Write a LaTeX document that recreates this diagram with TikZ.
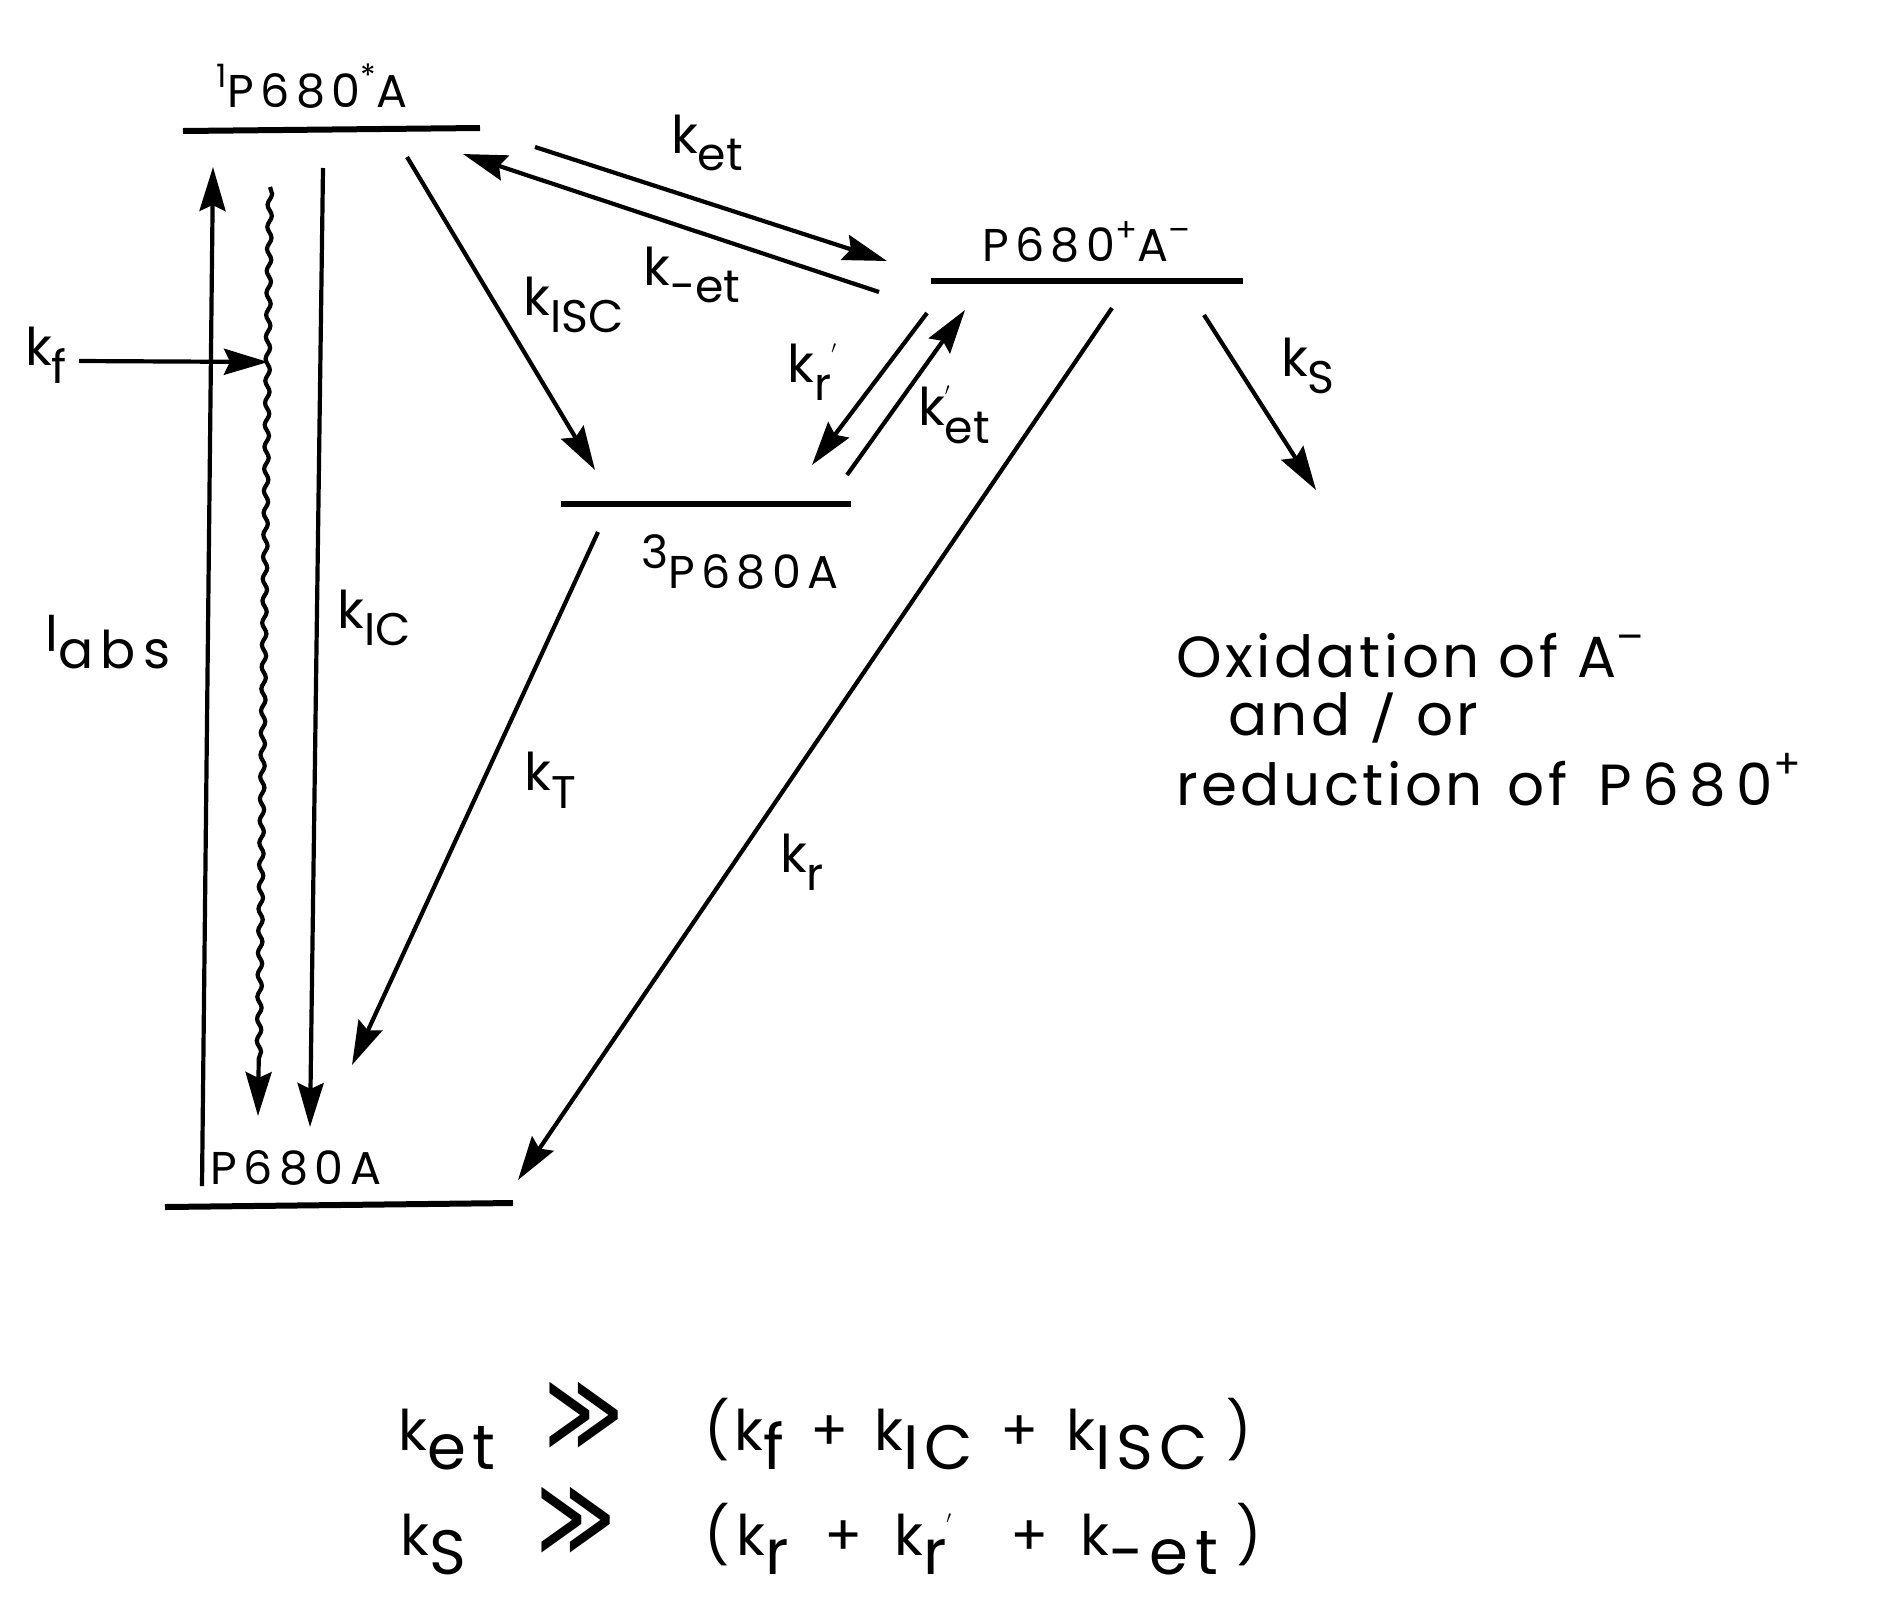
\documentclass[tikz,border=0pt]{standalone}
\usepackage{fontspec}
\usepackage{graphicx}
\setmainfont{Poppins}
\newfontfamily\djv{DejaVu Sans}
\usetikzlibrary{arrows.meta,decorations.pathmorphing}
\newcommand\dn[1]{\raisebox{-0.34em}{\scalebox{0.88}{#1}}}
\newcommand\dnb[1]{\raisebox{-0.34em}{\scalebox{1.12}{\addfontfeatures{LetterSpace=10}#1}}}
\newcommand\up[1]{\raisebox{0.45em}{\scalebox{0.7}{#1}}}
\newcommand\ggg{\scalebox{1.35}[2.0]{{\djv ≫}}}
\begin{document}
\begin{tikzpicture}[x=1pt,y=-1pt,
  level/.style={line width=6pt},
  conn/.style={line width=4.2pt,-{Stealth[length=44pt,width=26pt,inset=6pt]}},
  lvl/.style={font=\fontsize{46}{50}\selectfont\addfontfeatures{LetterSpace=14}},
  rate/.style={font=\fontsize{52}{56}\selectfont, inner sep=2pt},
  txt/.style={font=\fontsize{58}{64}\selectfont\addfontfeatures{LetterSpace=6}, anchor=west, inner sep=0pt},
  eqn/.style={font=\fontsize{56}{64}\selectfont, anchor=base west, inner sep=0pt}]
\useasboundingbox (0,0) rectangle (1892,1615);
% energy levels
\coordinate (S1l) at (183,131); \coordinate (S1r) at (480,128);
\coordinate (CTl) at (931,281); \coordinate (CTr) at (1243,281);
\coordinate (Tl) at (561,504); \coordinate (Tr) at (851,504);
\coordinate (Gl) at (165,1207); \coordinate (Gr) at (513,1203);
\draw[level] (S1l) -- (S1r);
\draw[level] (CTl) -- (CTr);
\draw[level] (Tl) -- (Tr);
\draw[level] (Gl) -- (Gr);
% level labels
\node[lvl] (S1lab) at (312,86) {\up{1}P680\up{*}A};
\node[lvl] (CTlab) at (1086,242) {P680\up{+}A\up{–}};
\node[lvl] (Tlab) at (740,562) {\raisebox{0.45em}{3}P680A};
\node[lvl] (Glab) at (296,1168) {P680A};
% arrow end points
\coordinate (Ia) at (202,1186); \coordinate (Ib) at (213,167);
\coordinate (Fa) at (270,187); \coordinate (Fb) at (258,1116);
\coordinate (ICa) at (323,168); \coordinate (ICb) at (310,1127);
\coordinate (kfb) at (268,362);
\coordinate (ISa) at (407,157); \coordinate (ISb) at (595,470);
\coordinate (ETa) at (535,147); \coordinate (ETb) at (887,261);
\coordinate (METa) at (879,292); \coordinate (METb) at (463,154);
\coordinate (RPa) at (927,313); \coordinate (RPb) at (812,465);
\coordinate (PETa) at (847,475); \coordinate (PETb) at (965,310);
\coordinate (Ra) at (1112,308); \coordinate (Rb) at (518,1180);
\coordinate (Sa) at (1204,315); \coordinate (Sb) at (1316,490);
\coordinate (Ta) at (598,532); \coordinate (Tb) at (352,1065);
% connectors
\draw[conn] (Ia) -- (Ib);
\draw[conn, decorate, decoration={snake, amplitude=2.2pt, segment length=22pt, post length=48pt}] (Fa) -- (Fb);
\draw[conn] (ICa) -- (ICb);
\draw[conn] (ISa) -- (ISb);
\draw[conn] (ETa) -- (ETb);
\draw[conn] (METa) -- (METb);
\draw[conn] (RPa) -- (RPb);
\draw[conn] (PETa) -- (PETb);
\draw[conn] (Ra) -- (Rb);
\draw[conn] (Sa) -- (Sb);
\draw[conn] (Ta) -- (Tb);
% rate labels
\node[rate] (kf) at (46,355) {k\dn{f}};
\draw[conn] (kf.east) ++(10,6) coordinate (kfa) (kfa) -- (kfb);
\node[rate, font=\fontsize{52}{56}\selectfont\addfontfeatures{LetterSpace=14}] (Iabs) at (108,642) {I\raisebox{-0.34em}{abs}};
\node[rate] (kIC) at (374,618) {k\dn{IC}};
\node[rate] (kISC) at (574,305) {k\dn{ISC}};
\node[rate] (ket) at (707,143) {k\dn{et}};
\node[rate] (kmet) at (692,275) {k\dn{-et}};
\node[rate] (krp) at (812,372) {k\dn{r}\up{$'$}};
\node[rate] (kpet) at (954,415) {k\rlap{\up{$'$}}\dn{et}};
\node[rate] (kr) at (802,862) {k\dn{r}};
\node[rate] (ks) at (1308,366) {k\dn{S}};
\node[rate] (kT) at (550,780) {k\dn{T}};
% products
\node[txt] (ox) at (1176,656) {Oxidation of A\up{–}};
\node[txt] (andor) at (1228,718) {and \scalebox{1}[0.78]{/} or};
\node[txt] (red) at (1176,780) {reduction\hspace{6pt} of\hspace{12pt} {\addfontfeatures{LetterSpace=18}P680}\up{+}};
% conditions, line 1
\node[eqn] (e1a) at (398,1450) {k\dnb{et}};
\node[eqn] (e1b) at (544,1450) {\ggg};
\node[eqn] (e1c) at (704,1450) {(};
\node[eqn] (e1d) at (734,1450) {k\dnb{f}};
\node[eqn] (e1e) at (810,1450) {+};
\node[eqn] (e1f) at (874,1450) {k\dnb{IC}};
\node[eqn] (e1g) at (1000,1450) {+};
\node[eqn] (e1h) at (1066,1450) {k\dnb{ISC}};
\node[eqn] (e1i) at (1226,1450) {)};
% conditions, line 2
\node[eqn] (e2a) at (400,1555) {k\dnb{S}};
\node[eqn] (e2b) at (536,1555) {\ggg};
\node[eqn] (e2c) at (704,1555) {(};
\node[eqn] (e2d) at (736,1555) {k\dnb{r}};
\node[eqn] (e2e) at (824,1555) {+};
\node[eqn] (e2f) at (894,1555) {k\dnb{r}\up{$'$}};
\node[eqn] (e2g) at (1010,1555) {+};
\node[eqn] (e2h) at (1080,1555) {k\dnb{-et}};
\node[eqn] (e2i) at (1236,1555) {)};
\end{tikzpicture}
\end{document}
